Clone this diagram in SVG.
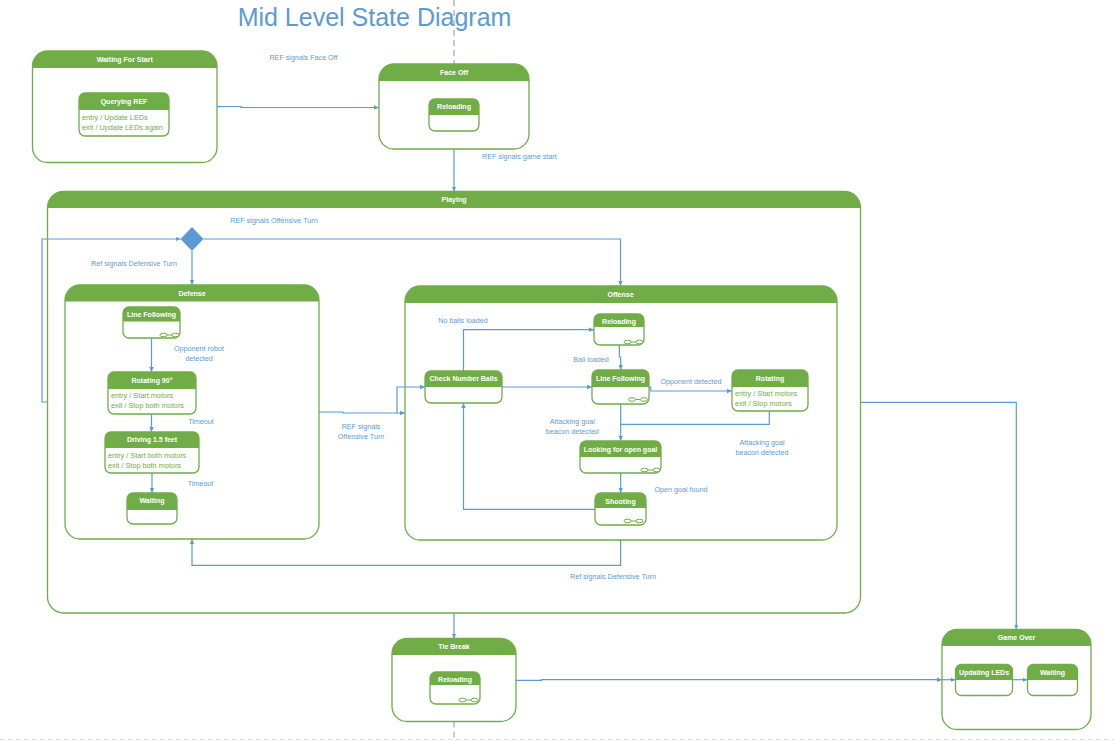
<svg xmlns="http://www.w3.org/2000/svg" width="1114" height="741" viewBox="0 0 1114 741">
<style>
.box{fill:#fff;stroke:#70AD47;stroke-width:1.3}
.hdr{fill:#70AD47}
.ht{font-family:"Liberation Sans",Arial,sans-serif;font-size:7px;font-weight:bold;fill:#fff;text-anchor:middle}
.it{font-family:"Liberation Sans",Arial,sans-serif;font-size:7.3px;fill:#70AD47}
.lbl{font-family:"Liberation Sans",Arial,sans-serif;font-size:7.2px;fill:#5B9BD5;text-anchor:middle}
.c{fill:none;stroke:#5B9BD5;stroke-width:1.2}
.ca{fill:none;stroke:#5B9BD5;stroke-width:1.2;marker-end:url(#a)}
.dash{stroke:#a6a6a6;stroke-width:1.2;stroke-dasharray:6,4;fill:none}
.ico{fill:#fff;stroke:#70AD47;stroke-width:1}
</style>
<defs>
<marker id="a" markerUnits="userSpaceOnUse" markerWidth="6" markerHeight="6" refX="5" refY="3" orient="auto">
<path d="M0,0.8 L5,3 L0,5.2 z" fill="#5B9BD5"/>
</marker>
<g id="icon">
<ellipse class="ico" cx="-6" cy="0" rx="3.6" ry="1.8"/>
<ellipse class="ico" cx="6" cy="0" rx="3.6" ry="1.8"/>
<line x1="-2.4" y1="0" x2="2.4" y2="0" stroke="#70AD47" stroke-width="1"/>
</g>
</defs>
<rect width="1114" height="741" fill="#fff"/>

<text x="374.5" y="26" font-family="'Liberation Sans',Arial,sans-serif" font-size="25" fill="#5B9BD5" text-anchor="middle">Mid Level State Diagram</text>
<path class="dash" d="M454,0 V64 M454,721.5 V738"/>
<path d="M0,739.5 H1114" stroke="#dddddd" stroke-width="1.2" stroke-dasharray="5,3"/>

<g id="waiting-for-start">
<rect class="box" x="32.5" y="51" width="184.5" height="111.5" rx="15"/>
<path class="hdr" d="M32.5,68 V66 A15,15 0 0 1 47.5,51 H202 A15,15 0 0 1 217,66 V68 Z"/>
<text class="ht" x="124.7" y="61.5">Waiting For Start</text>
<g id="querying-ref">
<rect class="box" x="79" y="93" width="90" height="43" rx="6"/>
<path class="hdr" d="M79,110 V99 A6,6 0 0 1 85,93 H163 A6,6 0 0 1 169,99 V110 Z"/>
<text class="ht" x="124" y="104">Querying REF</text>
<text class="it" x="82" y="119.5">entry / Update LEDs</text>
<text class="it" x="82" y="129.5">exit / Update LEDs again</text>
</g>
</g>

<g id="face-off">
<rect class="box" x="379" y="64" width="150" height="85" rx="15"/>
<path class="hdr" d="M379,81 V79 A15,15 0 0 1 394,64 H514 A15,15 0 0 1 529,79 V81 Z"/>
<text class="ht" x="454" y="74.5">Face Off</text>
<g id="face-off-reloading">
<rect class="box" x="429" y="99" width="50" height="32" rx="6"/>
<path class="hdr" d="M429,115 V105 A6,6 0 0 1 435,99 H473 A6,6 0 0 1 479,105 V115 Z"/>
<text class="ht" x="454" y="109">Reloading</text>
</g>
</g>

<g id="playing">
<rect class="box" x="47.5" y="191.5" width="813" height="421.5" rx="16"/>
<path class="hdr" d="M47.5,208 V207.5 A16,16 0 0 1 63.5,191.5 H844.5 A16,16 0 0 1 860.5,207.5 V208 Z"/>
<text class="ht" x="454" y="202">Playing</text>
</g>

<g id="choice">
<path d="M192,227 L203.5,239 L192,251 L180.5,239 Z" fill="#5B9BD5"/>
</g>

<g id="defense">
<rect class="box" x="65" y="285" width="254" height="254" rx="15"/>
<path class="hdr" d="M65,301.5 V300 A15,15 0 0 1 80,285 H304 A15,15 0 0 1 319,300 V301.5 Z"/>
<text class="ht" x="192" y="296">Defense</text>
</g>
<g id="def-line-following">
<rect class="box" x="123" y="307" width="57" height="31" rx="6"/>
<path class="hdr" d="M123,321.5 V313 A6,6 0 0 1 129,307 H174 A6,6 0 0 1 180,313 V321.5 Z"/>
<text class="ht" x="151.5" y="317">Line Following</text>
<use href="#icon" x="169.5" y="335"/>
</g>
<g id="def-rotating">
<rect class="box" x="108" y="372" width="88" height="42" rx="6"/>
<path class="hdr" d="M108,389 V378 A6,6 0 0 1 114,372 H190 A6,6 0 0 1 196,378 V389 Z"/>
<text class="ht" x="152" y="383">Rotating 90°</text>
<text class="it" x="111" y="397.5">entry / Start motors</text>
<text class="it" x="111" y="407.5">exit / Stop both motors</text>
</g>
<g id="def-driving">
<rect class="box" x="105" y="432" width="94" height="41" rx="6"/>
<path class="hdr" d="M105,448 V438 A6,6 0 0 1 111,432 H193 A6,6 0 0 1 199,438 V448 Z"/>
<text class="ht" x="152" y="442">Driving 1.5 feet</text>
<text class="it" x="108" y="457.5">entry / Start both motors</text>
<text class="it" x="108" y="467.5">exit / Stop both motors</text>
</g>
<g id="def-waiting">
<rect class="box" x="127" y="493" width="50" height="31" rx="6"/>
<path class="hdr" d="M127,510 V499 A6,6 0 0 1 133,493 H171 A6,6 0 0 1 177,499 V510 Z"/>
<text class="ht" x="152" y="503">Waiting</text>
</g>

<g id="offense">
<rect class="box" x="405" y="286" width="432" height="254" rx="15"/>
<path class="hdr" d="M405,303 V301 A15,15 0 0 1 420,286 H822 A15,15 0 0 1 837,301 V303 Z"/>
<text class="ht" x="620.5" y="297">Offense</text>
</g>
<g id="off-reloading">
<rect class="box" x="594" y="314" width="50" height="31" rx="6"/>
<path class="hdr" d="M594,327 V320 A6,6 0 0 1 600,314 H638 A6,6 0 0 1 644,320 V327 Z"/>
<text class="ht" x="619" y="323.5">Reloading</text>
<use href="#icon" x="633.5" y="342"/>
</g>
<g id="check-number-balls">
<rect class="box" x="425" y="371" width="77" height="32" rx="6"/>
<path class="hdr" d="M425,387 V377 A6,6 0 0 1 431,371 H496 A6,6 0 0 1 502,377 V387 Z"/>
<text class="ht" x="463.5" y="381">Check Number Balls</text>
</g>
<g id="off-line-following">
<rect class="box" x="592" y="370" width="57" height="34" rx="6"/>
<path class="hdr" d="M592,387 V376 A6,6 0 0 1 598,370 H643 A6,6 0 0 1 649,376 V387 Z"/>
<text class="ht" x="620.5" y="381">Line Following</text>
<use href="#icon" x="638" y="399.5"/>
</g>
<g id="off-rotating">
<rect class="box" x="732" y="370" width="76" height="41" rx="6"/>
<path class="hdr" d="M732,387 V376 A6,6 0 0 1 738,370 H802 A6,6 0 0 1 808,376 V387 Z"/>
<text class="ht" x="770" y="381">Rotating</text>
<text class="it" x="735" y="396">entry / Start motors</text>
<text class="it" x="735" y="406">exit / Stop motors</text>
</g>
<g id="looking-for-open-goal">
<rect class="box" x="580" y="441" width="81" height="32" rx="6"/>
<path class="hdr" d="M580,457 V447 A6,6 0 0 1 586,441 H655 A6,6 0 0 1 661,447 V457 Z"/>
<text class="ht" x="620.5" y="451.5">Looking for open goal</text>
<use href="#icon" x="650.5" y="470"/>
</g>
<g id="shooting">
<rect class="box" x="595" y="493" width="51" height="32" rx="6"/>
<path class="hdr" d="M595,508 V499 A6,6 0 0 1 601,493 H640 A6,6 0 0 1 646,499 V508 Z"/>
<text class="ht" x="620.5" y="503.5">Shooting</text>
<use href="#icon" x="633.5" y="521"/>
</g>

<g id="tie-break">
<rect class="box" x="392" y="638.5" width="124" height="83" rx="15"/>
<path class="hdr" d="M392,655 V653.5 A15,15 0 0 1 407,638.5 H501 A15,15 0 0 1 516,653.5 V655 Z"/>
<text class="ht" x="454" y="649">Tie Break</text>
<g id="tie-reloading">
<rect class="box" x="430" y="672" width="50" height="32" rx="6"/>
<path class="hdr" d="M430,685 V678 A6,6 0 0 1 436,672 H474 A6,6 0 0 1 480,678 V685 Z"/>
<text class="ht" x="455" y="681.5">Reloading</text>
<use href="#icon" x="468.5" y="700"/>
</g>
</g>

<g id="game-over">
<rect class="box" x="942" y="629.5" width="149" height="100" rx="15"/>
<path class="hdr" d="M942,646 V644.5 A15,15 0 0 1 957,629.5 H1076 A15,15 0 0 1 1091,644.5 V646 Z"/>
<text class="ht" x="1016.5" y="639.5">Game Over</text>
<g id="updating-leds">
<rect class="box" x="955.5" y="664.5" width="57" height="31" rx="6"/>
<path class="hdr" d="M955.5,680 V670.5 A6,6 0 0 1 961.5,664.5 H1006.5 A6,6 0 0 1 1012.5,670.5 V680 Z"/>
<text class="ht" x="984" y="674.5">Updating LEDs</text>
</g>
<g id="go-waiting">
<rect class="box" x="1027.5" y="664.5" width="50" height="31" rx="6"/>
<path class="hdr" d="M1027.5,680 V670.5 A6,6 0 0 1 1033.5,664.5 H1071.5 A6,6 0 0 1 1077.5,670.5 V680 Z"/>
<text class="ht" x="1052.5" y="674.5">Waiting</text>
</g>
</g>

<g id="connectors">
<path class="ca" d="M217,106.5 H241 V107.5 H379"/>
<path class="ca" d="M454,149 V191.5"/>
<path class="ca" d="M47.5,402 H42 V239 H180.5"/>
<path class="ca" d="M192,251 V285"/>
<path class="ca" d="M203.5,239 H620.5 V286"/>
<path class="ca" d="M151.5,338 V372"/>
<path class="ca" d="M151.5,414 V432"/>
<path class="ca" d="M152,473 V493"/>
<path class="ca" d="M319,412 H343 V413 H405"/>
<path class="ca" d="M397,413 V387 H425"/>
<path class="ca" d="M463.5,371 V329.7 H594"/>
<path class="ca" d="M619.3,345 V357 H620.7 V370"/>
<path class="ca" d="M502,387 H592"/>
<path class="ca" d="M649,387 H650.7 V391 H732"/>
<path class="ca" d="M620.7,404 V441"/>
<path class="c" d="M769.3,411 V424.3 H620.7"/>
<path class="ca" d="M620.7,473 V493"/>
<path class="ca" d="M595,509.3 H463.5 V403"/>
<path class="ca" d="M620.6,540 V565.3 H192 V539"/>
<path class="ca" d="M454,613 V638.5"/>
<path class="ca" d="M516,680.3 H541.5 V679.7 H942"/>
<path class="ca" d="M942,679.7 H955.5"/>
<path class="ca" d="M1012.5,679.7 H1027.5"/>
<path class="ca" d="M861,402.3 H1016.3 V629.5"/>
</g>

<g id="labels">
<text class="lbl" x="303.5" y="59.5">REF signals Face Off</text>
<text class="lbl" x="482" y="158.5" style="text-anchor:start">REF signals game start</text>
<text class="lbl" x="274" y="222.5">REF signals Offensive Turn</text>
<text class="lbl" x="134" y="265.5">Ref signals Defensive Turn</text>
<text class="lbl" x="199" y="350.5">Opponent robot</text>
<text class="lbl" x="199" y="360.5">detected</text>
<text class="lbl" x="201" y="423.5">Timeout</text>
<text class="lbl" x="200.5" y="485.5">Timeout</text>
<text class="lbl" x="361" y="429">REF signals</text>
<text class="lbl" x="361" y="438.5">Offensive Turn</text>
<text class="lbl" x="463" y="322.5">No balls loaded</text>
<text class="lbl" x="591" y="361.5">Ball loaded</text>
<text class="lbl" x="691" y="383.5">Opponent detected</text>
<text class="lbl" x="572.3" y="424">Attacking goal</text>
<text class="lbl" x="572.3" y="434">beacon detected</text>
<text class="lbl" x="762" y="445">Attacking goal</text>
<text class="lbl" x="762" y="455">beacon detected</text>
<text class="lbl" x="681" y="491.5">Open goal found</text>
<text class="lbl" x="613" y="578.5">Ref signals Defensive Turn</text>
</g>
</svg>
